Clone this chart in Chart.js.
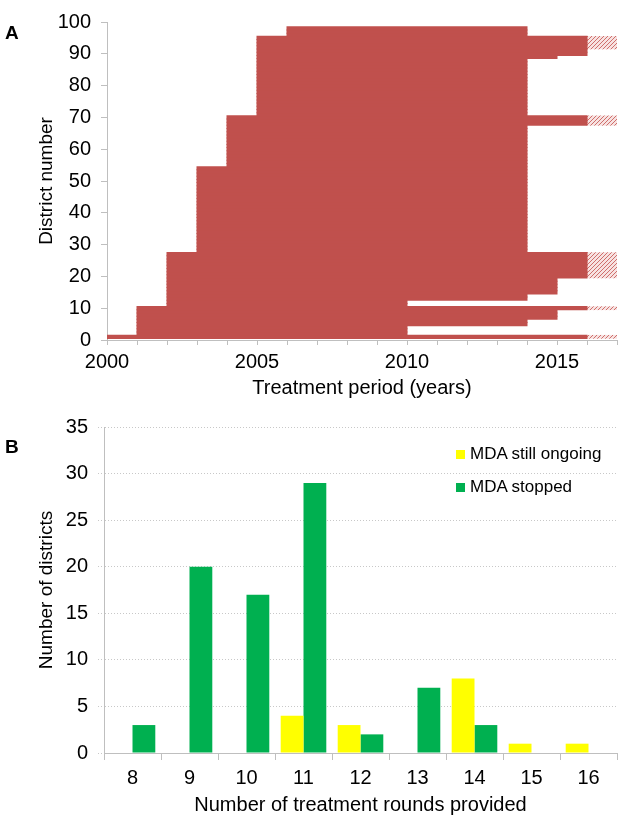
<!DOCTYPE html>
<html lang="en">
<head>
  <meta charset="UTF-8">
  <title>Treatment period and rounds per district</title>
  <script src="https://cdn.jsdelivr.net/npm/chart.js"></script>
  <style>
    body { margin: 0; background: #fff; font-family: 'Liberation Sans', Arial, sans-serif; }
    #page { position: relative; width: 625px; height: 819px; }
    .box { position: absolute; left: 0; width: 625px; }
    .panel { position: absolute; font-weight: bold; font-size: 19px; line-height: 19px; color: #000; }
    #legendB { position: absolute; left: 456px; top: 442px; font-size: 17px; color: #000; }
    #legendB div { display: flex; align-items: center; height: 24px; margin-bottom: 9px; }
    #legendB .sw { display: inline-block; width: 9px; height: 9px; margin-right: 5px; }
  </style>
</head>
<body>
  <div id="page">
    <div class="box" style="top:0;height:400px"><canvas id="chartA"></canvas></div>
    <div class="box" style="top:400px;height:419px"><canvas id="chartB"></canvas></div>
    <div class="panel" style="left:5px;top:23px">A</div>
    <div class="panel" style="left:5px;top:437px">B</div>
    <div id="legendB"></div>
  </div>
  <script>
    // Panel A: districts grouped by first and last treatment year
    const groupFirst   = [1, 2, 5, 7, 10, 11, 13, 15, 20, 28, 55, 68, 71, 89, 90, 92, 96];
    const groupLast    = [1, 4, 6, 9, 10, 12, 14, 19, 27, 54, 67, 70, 88, 89, 91, 95, 98];
    const groupStart   = [2000, 2001, 2001, 2001, 2001, 2002, 2002, 2002, 2002, 2003, 2004, 2004, 2005, 2005, 2005, 2005, 2006];
    const groupEnd     = [2016, 2010, 2014, 2015, 2016, 2010, 2014, 2015, 2016, 2014, 2014, 2016, 2014, 2015, 2016, 2016, 2014];
    const groupOngoing = [true, false, false, false, true, false, false, false, true, false, false, true, false, false, false, true, false];
    const ongoingUntil = 2017;
    const labelledYears = [2000, 2005, 2010, 2015];

    // Panel B: number of districts by treatment rounds
    const rounds       = ['8', '9', '10', '11', '12', '13', '14', '15', '16'];
    const stillOngoing = [0, 0, 0, 4, 3, 0, 8, 1, 1];
    const stopped      = [3, 20, 17, 29, 2, 7, 3, 0, 0];

    const red = '#C0504D';
    const axisGrey = '#bfbfbf';
    Chart.defaults.font.family = "'Liberation Sans', Arial, sans-serif";
    Chart.defaults.color = '#000';

    // light hatch for the still-ongoing part
    const tile = document.createElement('canvas');
    tile.width = 4; tile.height = 4;
    const tctx = tile.getContext('2d');
    tctx.fillStyle = '#f7e2e1';
    tctx.fillRect(0, 0, 4, 4);
    tctx.fillStyle = '#cf6f6c';
    for (let i = 0; i < 4; i++) tctx.fillRect(i, 3 - i, 1, 1);
    const hatch = tctx.createPattern(tile, 'repeat');

    const solidBars = [];
    const hatchBars = [];
    groupFirst.forEach((first, g) => {
      for (let d = first; d <= groupLast[g]; d++) {
        solidBars.push({ x: [groupStart[g], groupEnd[g]], y: d });
        if (groupOngoing[g]) hatchBars.push({ x: [groupEnd[g], ongoingUntil], y: d });
      }
    });

    new Chart(document.getElementById('chartA'), {
      type: 'bar',
      data: {
        datasets: [
          { label: 'Treated', data: solidBars, backgroundColor: red, grouped: false,
            barPercentage: 1, categoryPercentage: 1, inflateAmount: 0.5 },
          { label: 'Still ongoing', data: hatchBars, backgroundColor: hatch, grouped: false,
            barPercentage: 1, categoryPercentage: 1, inflateAmount: 0.3 }
        ]
      },
      options: {
        indexAxis: 'y',
        responsive: true,
        maintainAspectRatio: false,
        animation: false,
        layout: { padding: { top: 12, right: 8, left: 0, bottom: 0 } },
        plugins: { legend: { display: false }, tooltip: { enabled: false } },
        scales: {
          x: {
            type: 'linear', min: 2000, max: 2017,
            afterFit: s => { s.height = 60; },
            ticks: {
              stepSize: 1, maxTicksLimit: 20, autoSkip: false, maxRotation: 0, padding: 5,
              font: { size: 20 },
              callback: v => labelledYears.includes(v) ? String(v) : ''
            },
            grid: { drawOnChartArea: false, tickLength: 5, color: axisGrey, offset: false },
            border: { color: axisGrey },
            title: { display: true, text: 'Treatment period (years)', font: { size: 20 }, padding: { top: 0, bottom: 0 } }
          },
          y: {
            type: 'linear', min: 0, max: 100, offset: false,
            afterFit: s => { s.width = 107; },
            ticks: { stepSize: 10, padding: 10, font: { size: 20 } },
            grid: { drawOnChartArea: false, tickLength: 6, color: axisGrey, offset: false },
            border: { color: axisGrey },
            title: { display: true, text: 'District number', font: { size: 19 }, padding: { top: 35, bottom: 0 } }
          }
        }
      }
    });

    const chartB = new Chart(document.getElementById('chartB'), {
      type: 'bar',
      data: {
        labels: rounds,
        datasets: [
          { label: 'MDA still ongoing', data: stillOngoing, backgroundColor: '#FFFF00', categoryPercentage: 0.8, barPercentage: 1 },
          { label: 'MDA stopped', data: stopped, backgroundColor: '#00B050', categoryPercentage: 0.8, barPercentage: 1 }
        ]
      },
      options: {
        responsive: true,
        maintainAspectRatio: false,
        animation: false,
        layout: { padding: { top: 27, right: 8, left: 0, bottom: 0 } },
        plugins: { legend: { display: false }, tooltip: { enabled: false } },
        scales: {
          x: {
            afterFit: s => { s.height = 66; },
            ticks: { padding: 6, font: { size: 20 } },
            grid: { drawOnChartArea: false, tickLength: 7, color: axisGrey, offset: true },
            border: { color: axisGrey },
            title: { display: true, text: 'Number of treatment rounds provided', font: { size: 20 }, padding: { top: 0, bottom: 2 } }
          },
          y: {
            min: 0, max: 35,
            afterFit: s => { s.width = 104; },
            ticks: { stepSize: 5, padding: 10, font: { size: 20 } },
            grid: { color: '#c8c8c8', tickLength: 6, tickBorderDash: [1, 2] },
            border: { color: axisGrey, dash: [1, 2] },
            title: { display: true, text: 'Number of districts', font: { size: 19 }, padding: { top: 35, bottom: 0 } }
          }
        }
      }
    });

    const legend = document.getElementById('legendB');
    chartB.data.datasets.forEach(ds => {
      const row = document.createElement('div');
      const sw = document.createElement('span');
      sw.className = 'sw';
      sw.style.background = ds.backgroundColor;
      row.appendChild(sw);
      row.appendChild(document.createTextNode(ds.label));
      legend.appendChild(row);
    });
  </script>
</body>
</html>
